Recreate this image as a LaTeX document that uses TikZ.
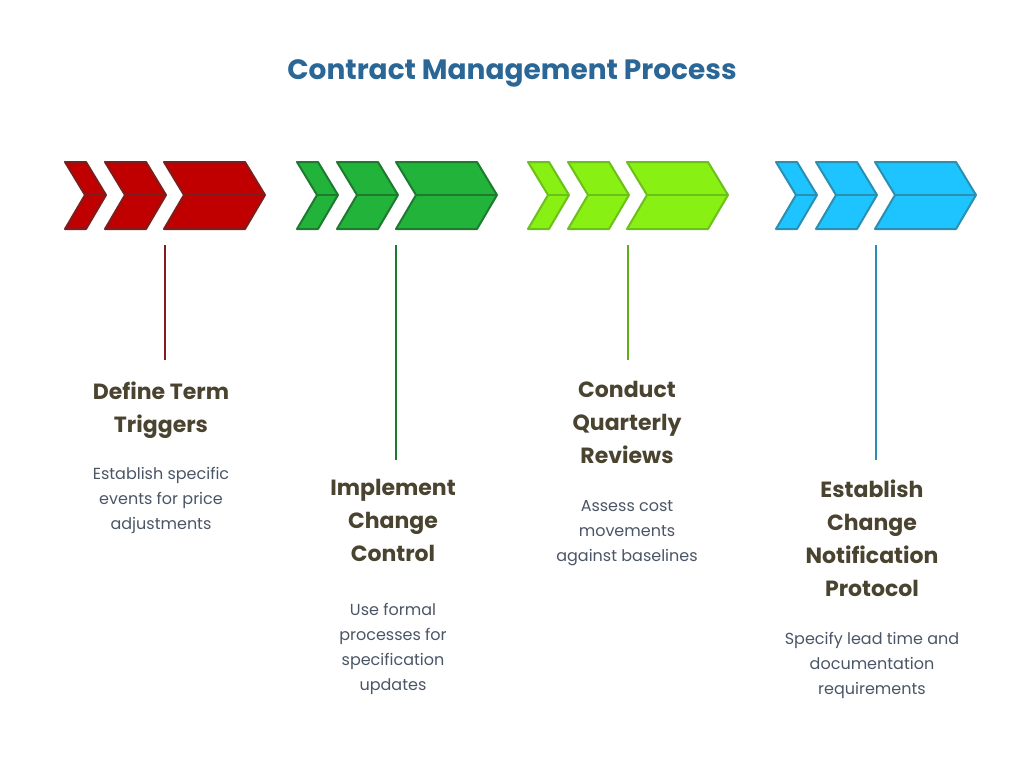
\documentclass[tikz,border=0pt]{standalone}
\usepackage{fontspec}
\setmainfont{Poppins}
\begin{document}
\begin{tikzpicture}[x=1pt,y=-1pt,
  head/.style={font=\fontsize{22}{33}\selectfont\bfseries,text=headc,align=center,anchor=north},
  desc/.style={font=\fontsize{16}{25}\selectfont,text=descc,align=center,anchor=north},
  conn/.style={line width=2pt}]
\definecolor{headc}{HTML}{4A4330}\definecolor{descc}{HTML}{4A5566}\definecolor{titlec}{HTML}{2A6796}
\definecolor{f1}{HTML}{C00000}\definecolor{s1}{HTML}{7F1D1D}
\definecolor{f2}{HTML}{22B33A}\definecolor{s2}{HTML}{1E7A2E}
\definecolor{f3}{HTML}{88F012}\definecolor{s3}{HTML}{6CC01A}
\definecolor{f4}{HTML}{1DC4FF}\definecolor{s4}{HTML}{2A8FB0}
\useasboundingbox (0,0) rectangle (1024,760);
\node[font=\fontsize{28}{34}\selectfont\bfseries,text=titlec] (title) at (512,73) {Contract Management Process};
\newcommand{\chev}[4]{% x left, right x, fill, stroke
  \filldraw[fill=#3,draw=#4,line width=2pt,line join=round] (#1,162)--(#2-20,162)--(#2,195)--(#2-20,229)--(#1,229)--(#1+20,195)--cycle;
  \draw[#4,line width=2pt] (#1+20,195)--(#2,195);}
\newcommand{\grp}[3]{%
  \chev{#1}{#1+41}{#2}{#3}\chev{#1+40}{#1+101}{#2}{#3}\chev{#1+99}{#1+200}{#2}{#3}}
\grp{65}{f1}{s1}\grp{297}{f2}{s2}\grp{528}{f3}{s3}\grp{776}{f4}{s4}
\coordinate (t1) at (165,245);\coordinate (t2) at (396,245);\coordinate (t3) at (628,245);\coordinate (t4) at (876,245);
\coordinate (b1) at (165,360);\coordinate (b2) at (396,460);\coordinate (b3) at (628,360);\coordinate (b4) at (876,460);
\draw[conn,s1] (t1)--(b1);\draw[conn,s2] (t2)--(b2);\draw[conn,s3!90!black] (t3)--(b3);\draw[conn,s4] (t4)--(b4);
\node[head] (h1) at (161,378) {Define Term\\Triggers};
\node[desc] (d1) at (161,464) {Establish specific\\events for price\\adjustments};
\node[head] (h2) at (393,476) {Implement\\Change\\Control};
\node[desc] (d2) at (393,600) {Use formal\\processes for\\specification\\updates};
\node[head] (h3) at (627,378) {Conduct\\Quarterly\\Reviews};
\node[desc] (d3) at (627,497) {Assess cost\\movements\\against baselines};
\node[head] (h4) at (872,476) {Establish\\Change\\Notification\\Protocol};
\node[desc] (d4) at (872,629) {Specify lead time and\\documentation\\requirements};
\end{tikzpicture}
\end{document}
